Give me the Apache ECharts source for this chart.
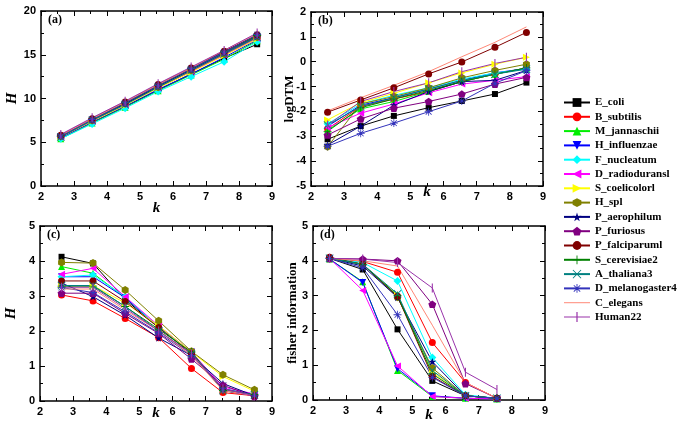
<!DOCTYPE html>
<html>
<head>
<meta charset="utf-8">
<script src="https://cdn.jsdelivr.net/npm/echarts@6/dist/echarts.min.js"></script>
<style>
  html, body { margin: 0; padding: 0; background: #fff; }
  #chart { width: 678px; height: 426px; }
</style>
</head>
<body>
<div id="chart"></div>
<script>
// species names, in legend order
const names = ['E_coli', 'B_subtilis', 'M_jannaschii', 'H_influenzae', 'F_nucleatum', 'D_radioduransl',
  'S_coelicolorl', 'H_spl', 'P_aerophilum', 'P_furiosus', 'P_falciparuml', 'S_cerevisiae2',
  'A_thaliana3', 'D_melanogaster4', 'C_elegans', 'Human22'];

// k positions of the points in each panel
const kA = [2.6, 3.55, 4.55, 5.55, 6.55, 7.55, 8.55];
const kB = [2.5, 3.5, 4.5, 5.55, 6.55, 7.55, 8.5];
const kC = [2.65, 3.6, 4.57, 5.58, 6.57, 7.52, 8.47];
const kD = [2.5, 3.5, 4.55, 5.6, 6.6, 7.55];

// (a) H
const hA = [
  [5.6, 7.3, 9.1, 11.0, 12.8, 14.6, 16.2],
  [5.7, 7.5, 9.3, 11.3, 13.1, 15.0, 16.9],
  [5.4, 7.2, 9.0, 10.9, 12.7, 14.5, 16.6],
  [5.5, 7.3, 9.1, 11.0, 12.8, 14.7, 16.7],
  [5.4, 7.1, 8.9, 10.8, 12.5, 14.2, 16.5],
  [5.6, 7.4, 9.3, 11.2, 13.1, 15.0, 16.9],
  [5.6, 7.4, 9.2, 11.2, 13.0, 14.9, 16.8],
  [5.7, 7.5, 9.4, 11.3, 13.2, 15.1, 17.0],
  [5.7, 7.6, 9.4, 11.4, 13.3, 15.2, 17.1],
  [5.8, 7.6, 9.5, 11.5, 13.4, 15.3, 17.2],
  [5.8, 7.7, 9.6, 11.6, 13.5, 15.4, 17.3],
  [5.7, 7.6, 9.5, 11.5, 13.4, 15.3, 17.2],
  [5.6, 7.5, 9.3, 11.3, 13.2, 15.1, 17.0],
  [5.7, 7.6, 9.5, 11.5, 13.4, 15.3, 17.3],
  [5.8, 7.7, 9.6, 11.6, 13.5, 15.5, 17.4],
  [5.9, 7.8, 9.7, 11.7, 13.6, 15.5, 17.5]
];

// (b) logDTM
const dtmB = [
  [-3.12, -2.59, -2.18, -1.85, -1.58, -1.30, -0.84],
  [-2.7, -1.8, -1.5, -1.2, -0.8, -0.5, -0.25],
  [-2.75, -1.9, -1.6, -1.2, -0.8, -0.5, -0.25],
  [-2.6, -1.75, -1.45, -1.1, -0.75, -0.45, -0.27],
  [-2.5, -1.7, -1.35, -1.05, -0.7, -0.45, -0.3],
  [-2.65, -2.07, -1.7, -1.25, -0.9, -0.75, -0.6],
  [-2.34, -1.65, -1.27, -0.85, -0.45, -0.1, 0.18],
  [-3.42, -1.7, -1.4, -1.05, -0.65, -0.35, -0.1],
  [-3.35, -2.59, -1.75, -1.2, -0.8, -0.75, -0.35],
  [-2.95, -2.3, -1.87, -1.6, -1.3, -0.9, -0.63],
  [-2.03, -1.54, -1.05, -0.49, -0.01, 0.58, 1.18],
  [-2.8, -1.85, -1.5, -1.15, -0.8, -0.5, -0.25],
  [-2.55, -1.8, -1.45, -1.1, -0.75, -0.5, -0.3],
  [-3.4, -2.88, -2.47, -2.01, -1.58, -0.87, -0.36],
  [-1.98, -1.45, -0.95, -0.4, 0.2, 0.78, 1.4],
  [-2.55, -1.6, -1.2, -0.85, -0.4, -0.07, 0.18]
];

// (c) H
const hC = [
  [4.12, 3.93, 2.9, 2.1, 1.4, 0.3, 0.15],
  [3.03, 2.86, 2.36, 1.81, 0.93, 0.24, 0.15],
  [3.84, 3.65, 2.95, 2.1, 1.4, 0.35, 0.18],
  [3.55, 3.55, 2.95, 2.1, 1.4, 0.3, 0.15],
  [3.55, 3.6, 2.98, 2.1, 1.4, 0.35, 0.2],
  [3.62, 3.79, 2.98, 2.15, 1.4, 0.4, 0.2],
  [3.3, 3.3, 2.8, 2.15, 1.4, 0.7, 0.28],
  [3.96, 3.94, 3.17, 2.29, 1.42, 0.75, 0.32],
  [3.37, 2.98, 2.45, 1.8, 1.3, 0.5, 0.15],
  [3.08, 3.08, 2.5, 1.93, 1.2, 0.45, 0.13],
  [3.43, 3.43, 2.84, 2.1, 1.35, 0.35, 0.15],
  [3.28, 3.28, 2.7, 2.05, 1.4, 0.3, 0.18],
  [3.3, 3.3, 2.7, 2.0, 1.35, 0.3, 0.18],
  [3.24, 3.1, 2.55, 1.95, 1.3, 0.35, 0.15],
  [3.2, 3.2, 2.6, 2.0, 1.3, 0.3, 0.15],
  [3.25, 3.25, 2.65, 2.0, 1.35, 0.35, 0.15]
];

// (d) fisher information
const fisherD = [
  [4.07, 3.75, 2.03, 0.55, 0.12, 0.05],
  [4.07, 3.98, 3.67, 1.65, 0.5, 0.05],
  [4.05, 3.4, 0.85, 0.1, 0.05, 0.03],
  [4.05, 3.38, 0.9, 0.12, 0.05, 0.03],
  [4.07, 3.95, 3.42, 1.22, 0.15, 0.05],
  [4.07, 3.15, 0.98, 0.1, 0.05, 0.03],
  [4.07, 3.9, 3.0, 0.8, 0.12, 0.05],
  [4.07, 3.9, 2.95, 0.92, 0.12, 0.05],
  [4.07, 3.85, 2.95, 1.1, 0.12, 0.05],
  [4.07, 4.05, 4.0, 2.75, 0.47, 0.05],
  [4.1, 3.9, 2.98, 0.68, 0.12, 0.05],
  [4.07, 3.9, 3.0, 0.75, 0.12, 0.05],
  [4.07, 3.9, 3.05, 0.85, 0.12, 0.05],
  [4.07, 3.8, 2.45, 0.65, 0.12, 0.05],
  [4.07, 4.0, 3.85, 2.15, 0.5, 0.05],
  [4.07, 4.05, 3.95, 3.22, 0.8, 0.3]
];

const colors = ['#000000', '#ff0000', '#00ee00', '#0000ff', '#00ffff', '#ff00ff', '#ffff00', '#808000',
  '#000080', '#800080', '#800000', '#008000', '#008080', '#3333bb', '#ff8877', '#9933aa'];

const P = {
  hex: 'path://M5,0 L9.33,2.5 L9.33,7.5 L5,10 L0.67,7.5 L0.67,2.5 Z',
  star: 'path://M5,0 L6.18,3.5 L9.76,3.45 L6.9,5.6 L7.94,9.05 L5,7 L2.06,9.05 L3.1,5.6 L0.24,3.45 L3.82,3.5 Z',
  penta: 'path://M5,0 L9.76,3.45 L7.94,9.05 L2.06,9.05 L0.24,3.45 Z',
  plus: 'path://M4.5,0 L5.5,0 L5.5,4.5 L10,4.5 L10,5.5 L5.5,5.5 L5.5,10 L4.5,10 L4.5,5.5 L0,5.5 L0,4.5 L4.5,4.5 Z',
  cross: 'path://M0.7,0 L5,4.3 L9.3,0 L10,0.7 L5.7,5 L10,9.3 L9.3,10 L5,5.7 L0.7,10 L0,9.3 L4.3,5 L0,0.7 Z',
  aster: 'path://M4.5,0 L5.5,0 L5.5,4.5 L10,4.5 L10,5.5 L5.5,5.5 L5.5,10 L4.5,10 L4.5,5.5 L0,5.5 L0,4.5 L4.5,4.5 Z M1,1.7 L1.7,1 L9,8.3 L8.3,9 Z M8.3,1 L9,1.7 L1.7,9 L1,8.3 Z',
  bar: 'path://M4.4,0 L5.6,0 L5.6,10 L4.4,10 Z'
};
// [symbol, rotate, size]
const marks = [
  ['rect', 0, 6], ['circle', 0, 7], ['triangle', 0, 7], ['triangle', 180, 7],
  ['diamond', 0, 8], ['triangle', 90, 7], ['triangle', -90, 7], [P.hex, 0, 8],
  [P.star, 0, 8], [P.penta, 0, 8], ['circle', 0, 7], [P.plus, 0, 8],
  [P.cross, 0, 8], [P.aster, 0, 8], ['none', 0, 0], [P.bar, 0, 9]
];

// legend icons that the line series cannot draw on its own
const legendIcons = {
  C_elegans: 'path://M0,4.6 L26,4.6 L26,5.6 L0,5.6 Z',
  Human22: 'path://M0,4.5 L12.4,4.5 L12.4,0 L13.6,0 L13.6,4.5 L26,4.5 L26,5.5 L13.6,5.5 L13.6,10 L12.4,10 L12.4,5.5 L0,5.5 Z'
};

const panels = [
  {k: kA, v: hA, grid: {left: 41, top: 11, width: 231, height: 175}, y: [0, 20, 5], yName: 'H', yItalic: true, yGap: 21, xGap: 15, tag: '(a)'},
  {k: kB, v: dtmB, grid: {left: 311, top: 12, width: 232, height: 174}, y: [-5, 2, 1], yName: 'logDTM', yItalic: false, yGap: 15, xGap: -1, tag: '(b)'},
  {k: kC, v: hC, grid: {left: 40, top: 226, width: 232, height: 175}, y: [0, 5, 1], yName: 'H', yItalic: true, yGap: 21, xGap: 5, tag: '(c)'},
  {k: kD, v: fisherD, grid: {left: 313, top: 226, width: 232, height: 174}, y: [0, 5, 1], yName: 'fisher information', yItalic: false, yGap: 14, xGap: 8, tag: '(d)'}
];

const lbl = {fontFamily: 'Liberation Sans', fontWeight: 'bold', fontSize: 11, color: '#000'};
const frame = {show: true, onZero: false, lineStyle: {color: '#000', width: 1.5}};
const tick = {show: true, inside: true, length: 5, lineStyle: {color: '#000', width: 1}};
const minor = {show: true, splitNumber: 2, length: 3, lineStyle: {color: '#000', width: 1}};

const grid = [], xAxis = [], yAxis = [], series = [], graphic = [];
panels.forEach((p, i) => {
  grid.push(Object.assign({containLabel: false}, p.grid));
  const nameFont = {fontFamily: 'Liberation Serif', fontWeight: 'bold', fontSize: 15, color: '#000', fontStyle: 'italic'};
  xAxis.push({
    gridIndex: i, type: 'value', position: 'bottom', min: 2, max: 9, interval: 1,
    name: 'k', nameLocation: 'middle', nameGap: p.xGap, nameMoveOverlap: false, nameTextStyle: nameFont,
    axisLine: frame, axisTick: tick, minorTick: minor, splitLine: {show: false},
    axisLabel: Object.assign({margin: 5}, lbl)
  });
  xAxis.push({
    gridIndex: i, type: 'value', position: 'top', min: 2, max: 9, interval: 1,
    axisLine: frame, axisTick: tick, minorTick: minor, splitLine: {show: false}, axisLabel: {show: false}
  });
  yAxis.push({
    gridIndex: i, type: 'value', position: 'left', min: p.y[0], max: p.y[1], interval: p.y[2],
    name: p.yName, nameLocation: 'middle', nameGap: p.yGap, nameMoveOverlap: false,
    nameTextStyle: Object.assign({}, nameFont, {fontStyle: p.yItalic ? 'italic' : 'normal', fontSize: p.yItalic ? 15 : 13}),
    axisLine: frame, axisTick: tick, minorTick: minor, splitLine: {show: false},
    axisLabel: Object.assign({margin: 5}, lbl)
  });
  yAxis.push({
    gridIndex: i, type: 'value', position: 'right', min: p.y[0], max: p.y[1], interval: p.y[2],
    axisLine: frame, axisTick: tick, minorTick: minor, splitLine: {show: false}, axisLabel: {show: false}
  });
  names.forEach((n, s) => {
    const m = marks[s];
    series.push({
      name: n, type: 'line', xAxisIndex: 2 * i, yAxisIndex: 2 * i,
      data: p.k.map((k, j) => [k, p.v[s][j]]),
      symbol: m[0], symbolRotate: m[1], symbolSize: m[2], symbolKeepAspect: true,
      showSymbol: m[0] !== 'none',
      lineStyle: {color: colors[s], width: 1},
      itemStyle: {color: colors[s], borderWidth: 0},
      emphasis: {disabled: true}
    });
  });
  graphic.push({
    type: 'text', left: p.grid.left + 7, top: p.grid.top + 3,
    style: {text: p.tag, font: 'bold 12px "Liberation Serif"', fill: '#000'}
  });
});

const chart = echarts.init(document.getElementById('chart'));
chart.setOption({
  backgroundColor: '#fff',
  animation: false,
  grid, xAxis, yAxis, series, graphic,
  legend: {
    orient: 'vertical', left: 563, top: 97, padding: 0,
    itemWidth: 26, itemHeight: 11, itemGap: 3.3,
    data: names.map(n => legendIcons[n] ? {name: n, icon: legendIcons[n]} : n),
    textStyle: {fontFamily: 'Liberation Serif', fontWeight: 'bold', fontSize: 11, color: '#000', lineHeight: 11},
    itemStyle: {borderWidth: 0}
  }
});
</script>
</body>
</html>
